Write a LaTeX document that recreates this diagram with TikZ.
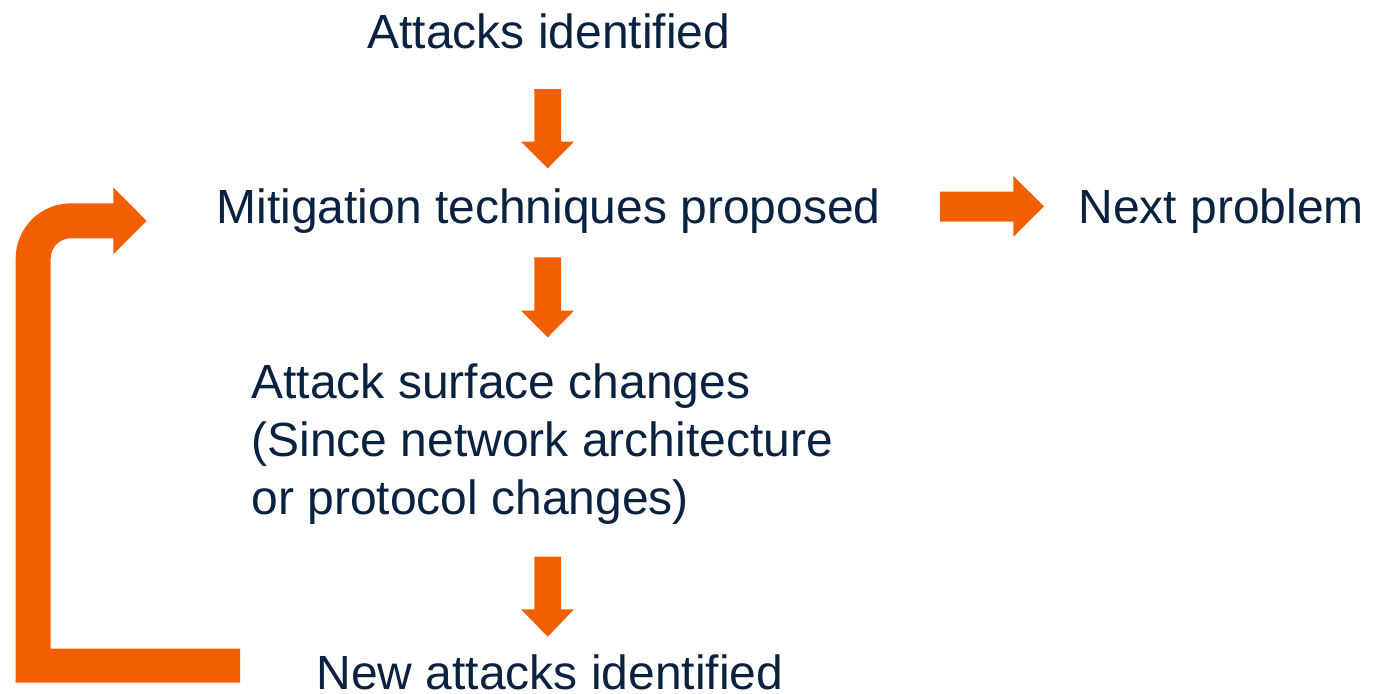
\documentclass[tikz,border=0pt]{standalone}
\usepackage{fontspec}
\setmainfont{Liberation Sans}
\definecolor{navy}{HTML}{0A2240}
\definecolor{orng}{HTML}{F25F00}
\begin{document}
\begin{tikzpicture}[x=0.5pt,y=-0.5pt,
  lbl/.style={inner sep=0pt, anchor=base west, text=navy, font=\fontsize{24}{29}\selectfont},
  blockarrow/.style={fill=orng, draw=none}]
\useasboundingbox (0,0) rectangle (1374,693);
% texts
\node[lbl] (a) at (367,48) {Attacks identified};
\node[lbl] (m) at (216,223) {Mitigation techniques proposed};
\node[lbl] (n) at (1078,223) {Next problem};
\node[lbl, align=left] (s) at (251,514) {Attack surface changes\\(Since network architecture\\or protocol changes)};
\node[lbl] (w) at (316,689) {New attacks identified};
% down arrows
\foreach \t/\b/\p in {89/141.7/168.3, 257.3/310.7/337.3, 556.7/609.3/636.7}{
  \fill[blockarrow] (534.3,\t) -- (561,\t) -- (561,\b) -- (574,\b) -- (547.7,\p) -- (521,\b) -- (534.3,\b) -- cycle;
}
% right arrow
\fill[blockarrow] (940,191.7) -- (1013.3,191.7) -- (1013.3,176) -- (1044,206.3) -- (1013.3,236.7) -- (1013.3,221.7) -- (940,221.7) -- cycle;
% feedback arrow
\fill[blockarrow] (15.7,682.7) -- (240,682.7) -- (240,648.7) -- (50.7,648.7) -- (50.7,258.3)
  .. controls (50.7,247.3) and (59.7,238.3) .. (70.7,238.3)
  -- (113.3,238.3) -- (113.3,254.3) -- (146.7,221) -- (113.3,187.3) -- (113.3,203.3) -- (71,203.3)
  .. controls (40.5,203.3) and (15.7,228) .. (15.7,258.3) -- cycle;
\end{tikzpicture}
\end{document}
